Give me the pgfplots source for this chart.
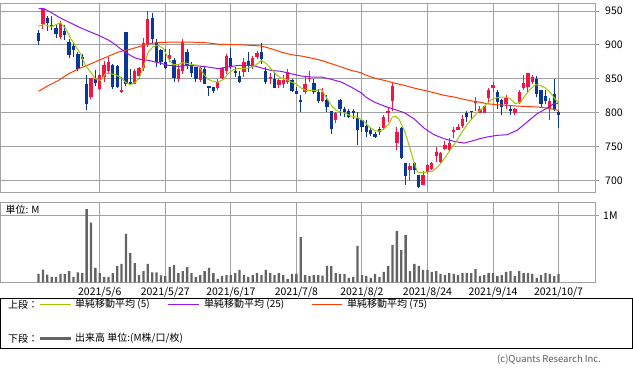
\documentclass[border=0pt]{standalone}
\usepackage{fontspec}
\setmainfont{Noto Sans CJK JP}
\usepackage{pgfplots}
\usepackage{pgfplotstable}
\pgfplotsset{compat=1.18}
\definecolor{cred}{RGB}{245,20,70}
\definecolor{cblue}{RGB}{10,55,150}
\definecolor{ma5}{RGB}{160,200,0}
\definecolor{ma25}{RGB}{150,20,240}
\definecolor{ma75}{RGB}{255,60,0}
\definecolor{volc}{RGB}{100,100,100}
\definecolor{gridc}{RGB}{160,160,160}
\definecolor{copyc}{RGB}{90,90,90}

\pgfplotstableread{
i O H L C
1 931 954 924 953
5 912 935 908 933
12 823 851 820 851
14 835 857 834 855
15 853 876 845 870
16 862 882 857 875
19 830 853 829 834
22 843 865 842 862
23 854 868 850 866
24 866 910 862 903
25 900 950 897 938
30 879 894 875 885
32 850 870 845 865
33 862 908 857 904
37 848 867 845 866
41 836 850 834 846
42 851 867 849 866
43 862 887 857 884
47 860 880 853 875
49 867 883 864 881
50 882 891 879 888
53 849 858 843 853
55 841 850 836 848
56 843 855 836 848
57 846 865 843 860
61 830 854 828 843
62 849 862 846 851
65 817 836 816 830
68 789 801 785 799
79 777 796 774 794
80 800 808 786 803
81 817 845 803 839
82 756 779 745 772
85 715 726 700 722
88 694 714 694 708
89 713 725 710 723
90 717 728 716 726
91 736 749 728 742
92 727 742 725 740
93 747 759 745 753
94 745 762 743 756
95 772 779 762 775
96 775 784 774 779
97 780 796 777 791
100 814 823 802 816
101 799 810 799 806
102 800 810 800 810
103 821 836 816 834
104 836 845 831 841
107 813 826 806 821
109 800 807 796 806
110 815 834 813 831
111 836 855 834 844
112 838 859 830 859
113 846 855 843 853
117 806 821 789 817
}\redtab

\pgfplotstableread{
i O H L C
0 917 922 900 906
2 939 943 920 933
3 930 943 922 928
4 925 929 910 916
6 920 929 907 915
7 904 908 880 885
8 898 904 882 893
9 887 890 862 865
10 882 887 869 879
11 843 856 804 813
13 850 863 840 844
17 870 872 835 838
18 869 871 836 838
20 919 919 840 843
21 845 865 841 843
26 939 947 902 909
27 904 908 867 875
28 892 894 870 875
29 875 894 865 866
31 877 880 845 851
34 890 894 865 870
35 870 875 853 858
36 867 867 845 850
38 865 867 842 843
39 840 840 825 836
40 838 838 829 832
44 881 895 865 868
45 862 867 853 858
46 854 862 844 845
48 876 890 860 871
51 890 903 872 879
52 862 867 843 845
54 850 858 836 837
58 848 850 831 832
59 832 838 827 828
60 818 826 801 816
63 844 849 828 830
64 831 835 814 817
66 819 826 801 808
67 802 803 768 776
69 818 820 795 806
70 805 808 794 801
71 803 805 792 794
72 803 806 791 799
73 792 801 752 774
74 789 791 771 779
75 781 789 764 772
76 775 777 765 768
77 769 772 762 764
78 776 779 767 772
83 777 779 731 733
84 726 726 694 707
86 726 728 710 715
87 708 708 689 690
98 799 803 786 794
99 803 803 789 801
105 831 833 806 816
106 818 820 797 808
108 806 812 797 803
114 850 854 823 828
115 834 834 807 813
116 825 834 813 817
118 828 849 802 805
119 801 802 777 796
}\bluetab

\pgfplotstableread{
i v
0 0.126
1 0.19
2 0.116
3 0.08
4 0.08
5 0.126
6 0.126
7 0.17
8 0.08
9 0.15
10 0.14
11 1.105
12 0.90
13 0.216
14 0.14
15 0.08
16 0.08
17 0.14
18 0.246
19 0.276
20 0.73
21 0.44
22 0.29
23 0.11
24 0.17
25 0.276
26 0.15
27 0.15
28 0.105
29 0.095
30 0.23
31 0.26
32 0.14
33 0.17
34 0.23
35 0.14
36 0.08
37 0.11
38 0.17
39 0.216
40 0.14
41 0.05
42 0.095
43 0.11
44 0.11
45 0.14
46 0.186
47 0.11
48 0.08
49 0.11
50 0.14
51 0.11
52 0.186
53 0.14
54 0.11
55 0.14
56 0.11
57 0.05
58 0.126
59 0.126
60 0.68
61 0.11
62 0.095
63 0.11
64 0.11
65 0.10
66 0.246
67 0.246
68 0.14
69 0.126
70 0.126
71 0.065
72 0.08
73 0.55
74 0.11
75 0.095
76 0.065
77 0.126
78 0.08
79 0.156
80 0.246
81 0.563
82 0.774
83 0.487
84 0.714
85 0.17
86 0.276
87 0.246
88 0.186
89 0.186
90 0.156
91 0.17
92 0.126
93 0.11
94 0.14
95 0.126
96 0.11
97 0.14
98 0.14
99 0.14
100 0.2
101 0.095
102 0.11
103 0.14
104 0.14
105 0.095
106 0.11
107 0.156
108 0.17
109 0.095
110 0.17
111 0.14
112 0.14
113 0.126
114 0.065
115 0.11
116 0.14
117 0.126
118 0.095
119 0.126
}\voltab

\pgfplotsset{
  chartbase/.style={
    scale only axis,
    width=595.2bp,
    xmin=-8.71, xmax=127.5,
    axis line style={gridc, line width=1bp},
    grid style={gridc, line width=1bp},
    xmajorgrids, ymajorgrids,
    xtick={14,29,44,59,74,89,104,119},
    xtick style={draw=none},
    ytick style={gridc, line width=1bp},
    ytick pos=right,
    yticklabel pos=right,
    tick align=outside,
    major tick length=3bp,
    ticklabel style={font=\fontsize{10.5bp}{12bp}\selectfont, text=black},
    /pgf/number format/assume math mode=true,
    clip=true,
  },
  candle/.style={draw=none, mark=none, forget plot,
    error bars/y dir=plus, error bars/y explicit, error bars/error mark=none,
    error bars/error bar style={draw=#1, line width=1bp}},
  cbody/.style={draw=none, mark=none, forget plot,
    error bars/y dir=plus, error bars/y explicit, error bars/error mark=none,
    error bars/error bar style={draw=#1, line width=3.3bp}},
}

\begin{document}
\begin{tikzpicture}
\path (0,0) rectangle (633bp,-373bp);

% upper panel
\begin{axis}[chartbase,
  at={(0.5bp,-1bp)}, anchor=north west,
  height=189.3bp,
  ymin=682.6, ymax=961.8,
  ytick={700,750,800,850,900,950},
  xticklabels={},
  yticklabel style={anchor=west, xshift=3bp},
]
% wicks
\addplot[candle=cred] table[x=i, y=L, y error expr=\thisrow{H}-\thisrow{L}] {\redtab};
\addplot[candle=cblue] table[x=i, y=L, y error expr=\thisrow{H}-\thisrow{L}] {\bluetab};
% bodies
\addplot[cbody=cred] table[x=i, y expr={min(\thisrow{O},\thisrow{C})}, y error expr={abs(\thisrow{C}-\thisrow{O})}] {\redtab};
\addplot[cbody=cblue] table[x=i, y expr={min(\thisrow{O},\thisrow{C})}, y error expr={abs(\thisrow{C}-\thisrow{O})}] {\bluetab};
% MA75
\addplot[ma75, line width=1bp, mark=none] coordinates {
(0,831.5) (2.3,840.3) (4.6,847.7) (6.9,857.5) (9.2,864.9) (11.5,870.8) (13.8,877.2) (16.1,883.6) (18.3,889.5) (20.6,893) (22.8,896.9) (25.1,901.8) (27.4,903.3) (30.5,904.2) (34.3,904.2) (38.1,903.3) (41.5,900.8) (45.7,900.3) (48.7,899.3) (51,898.3) (53.2,894.4) (55.5,889.5) (57.8,885.6) (60.1,883.6) (62.4,880.6) (64.7,877.2) (67,872.3) (69.3,867.4) (71.5,862.4) (73.8,859) (74.7,856) (76.8,851.1) (79.1,847.7) (81.4,843.8) (83.7,840.3) (85.9,836.4) (88.2,833) (90.5,829.5) (92.8,825.6) (95.1,823.1) (97.4,819.7) (99.7,816.7) (100.9,815.7) (102.6,813.3) (104.9,811.8) (109.5,809.8) (114.1,808.4) (116.4,806.9) (119,803.4)
};
% MA25
\addplot[ma25, line width=1bp, mark=none] coordinates {
(0,953.4) (1.2,953.4) (2.7,948.5) (4.6,941.1) (6.9,933.7) (9.2,926.4) (11.5,920) (13.8,914) (16.1,906.7) (17.6,900.3) (18.7,894.4) (19.9,889.5) (21,884.6) (22.2,880.6) (23.3,878.7) (25.1,877.2) (27.4,873.8) (29.7,869.8) (32,868.3) (34.3,869.8) (36.6,868.8) (38.8,867.4) (41.1,865) (43.4,867.4) (45.7,869.8) (48,869.8) (49.1,869.8) (51,866) (53.2,862.4) (55.5,861) (57.8,857.5) (60.1,854.1) (62.4,852.6) (64.7,852.6) (67,849.2) (69.3,845.2) (71.5,837.9) (73.8,829.5) (74.9,823.1) (76.8,815.7) (79.1,809.8) (81.4,804.9) (83.7,800) (85.9,791.1) (88.2,777.4) (90.5,767.5) (92.8,761.6) (95.1,757.7) (97.4,755.2) (99.7,759.2) (100.9,761.6) (102.6,764.1) (104.9,766.6) (107.2,767.5) (109.5,774) (111.8,786.2) (114.1,798.5) (116.4,806.9) (117.9,813.3) (119,813.3)
};
% MA5
\addplot[ma5, line width=1bp, mark=none] coordinates {
(0,927.8) (1.2,929.8) (3,927) (5,932.8) (6.2,924) (7.3,910) (8.4,899) (9.6,887) (10.7,869.8) (11.9,860) (13,850) (14.2,847.7) (15.3,857.5) (16.4,857.5) (17.6,856) (18.7,852.6) (19.9,845) (21,841.3) (22.2,845) (23,851) (24,867.4) (25.1,889.5) (26.3,897.8) (27.4,899.3) (28.6,894.4) (29.7,879.7) (30.8,870.8) (31.9,870.8) (33.1,873.8) (34.3,872.3) (35.4,870.8) (36.6,869.8) (37.7,857.5) (38.8,849.2) (40,846.2) (41.1,845.2) (42.3,849.2) (43.4,857.5) (44.6,863.4) (45.7,865) (46.8,865) (48,866) (48.7,867.4) (49.8,870.8) (51,877.2) (52.1,872.3) (53.2,865) (54.4,856) (55.5,851) (56.7,849.2) (57.8,845.2) (58.9,842.8) (60.1,836.4) (61.2,833) (62.4,833) (63.5,833) (64.7,834.4) (65.8,823) (67,810.8) (68.1,803.4) (69.3,801) (70.4,798.5) (71.5,795) (72.7,793.6) (73.8,790.2) (74.7,786) (75.7,778.9) (76.8,774) (77.9,772.5) (79.1,776.4) (80.2,783.8) (80.95,793.6) (81.8,794.6) (82.5,790.2) (83.7,774) (84.8,751.8) (85.9,727.2) (86.7,712.5) (87.9,711.5) (89,712.5) (90.1,713.5) (91.3,719.9) (92.4,728.2) (93.6,739.5) (94.7,749.4) (95.9,760.7) (97,772.5) (98.2,783.8) (99.3,792.1) (100.4,800) (101.5,805.9) (102.6,813.3) (103.8,819.7) (104.9,822.1) (106,823.1) (107.2,823.1) (107.9,820.7) (109.1,813.3) (110.3,815.7) (111.4,825.6) (112.5,834.4) (113.7,841.3) (114.8,840.3) (116,836.4) (117.1,829.5) (118.3,819.7) (119,813.3)
};
\end{axis}

% volume panel
\begin{axis}[chartbase,
  at={(0.5bp,-200.7bp)}, anchor=north west,
  height=79.6bp,
  ymin=0, ymax=1.2,
  ytick={1}, yticklabels={1M},
  yticklabel style={anchor=west, xshift=1bp},
  xticklabels={2021/5/6,2021/5/27,2021/6/17,2021/7/8,2021/8/2,2021/8/24,2021/9/14,2021/10/7},
  xticklabel style={yshift=2bp},
]
\addplot[ybar, bar width=2.3bp, fill=volc, draw=none] table[x=i, y=v] {\voltab};
\node[anchor=west, inner sep=0pt, font=\fontsize{10bp}{12bp}\selectfont] at (rel axis cs:0,1) [xshift=5bp, yshift=-6.8bp] {単位: M};
\end{axis}

% legend box
\draw[black, line width=1bp] (0.5bp,-296bp) rectangle (632.5bp,-346bp);
\begin{scope}[every node/.style={anchor=west, inner sep=0pt, font=\fontsize{10bp}{12bp}\selectfont}]
\node at (8bp,-302.3bp) {上段：};
\draw[ma5, line width=1bp] (40bp,-302.3bp) -- (71bp,-302.3bp);
\node at (75bp,-302.3bp) {単純移動平均 (5)};
\draw[ma25, line width=1bp] (167.5bp,-302.3bp) -- (198.6bp,-302.3bp);
\node at (204bp,-302.3bp) {単純移動平均 (25)};
\draw[ma75, line width=1bp] (312bp,-302.3bp) -- (342bp,-302.3bp);
\node at (347bp,-302.3bp) {単純移動平均 (75)};
\node at (8bp,-336.7bp) {下段：};
\draw[volc, line width=3bp] (40bp,-336.7bp) -- (71bp,-336.7bp);
\node at (75bp,-336.7bp) {出来高 単位:(M株/口/枚)};
\node[text=copyc, font=\fontsize{9.5bp}{11bp}\selectfont] at (497bp,-357.7bp) {(c)Quants Research Inc.};
\end{scope}
\end{tikzpicture}
\end{document}
